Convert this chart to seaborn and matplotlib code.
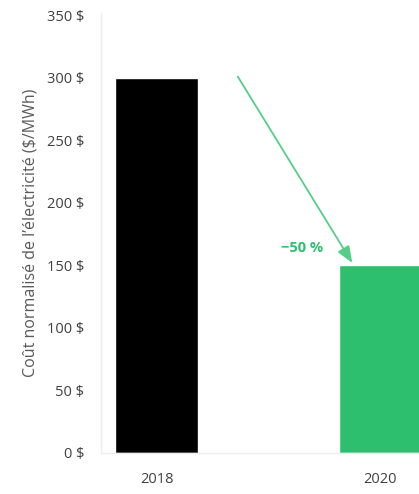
import matplotlib.pyplot as plt
import seaborn as sns
import pandas as pd
from matplotlib.ticker import FuncFormatter, MultipleLocator

# data
years = ['2018', '2020']
costs = [300, 150]
bar_colors = ['#000000', '#2DBF6E']
change_label = '\u221250 %'

sns.set_style('white')
plt.rcParams['font.family'] = ['Open Sans', 'DejaVu Sans']

df = pd.DataFrame({'Année': years, 'Coût': costs})

fig = plt.figure(figsize=(4.19, 4.94), dpi=100)
ax = fig.add_axes([0.241, 0.083, 0.759, 0.891])

sns.barplot(data=df, x='Année', y='Coût', hue='Année', palette=bar_colors,
            width=0.37, legend=False, ax=ax, saturation=1)

ax.set_xlim(-0.248, 1.172)
ax.set_ylim(0, 352)
ax.yaxis.set_major_locator(MultipleLocator(50))
ax.yaxis.set_major_formatter(FuncFormatter(lambda v, p: f'{v:.0f} $'))

ax.set_xlabel('')
ax.set_ylabel("Coût normalisé de l\u2019électricité ($/MWh)", fontsize=11.5,
              color='#595959', labelpad=6)
ax.tick_params(axis='both', length=0, labelsize=10.5, labelcolor='#404040')
ax.tick_params(axis='y', pad=12)
ax.tick_params(axis='x', pad=14)

for side in ['top', 'right']:
    ax.spines[side].set_visible(False)
for side in ['left', 'bottom']:
    ax.spines[side].set_color('#EEEEEE')
    ax.spines[side].set_linewidth(1)

# reduction arrow
ax.annotate('', xy=(0.874, costs[1] + 2), xytext=(0.363, 301),
            arrowprops=dict(arrowstyle='-|>,head_length=1.0,head_width=0.4',
                            color='#55CF88', lw=1.3, shrinkA=0, shrinkB=0))
ax.text(0.65, 164, change_label, color='#2DBF6E', fontsize=10.5,
        fontweight='bold', ha='center', va='center')

plt.savefig('out.png', dpi=100)
